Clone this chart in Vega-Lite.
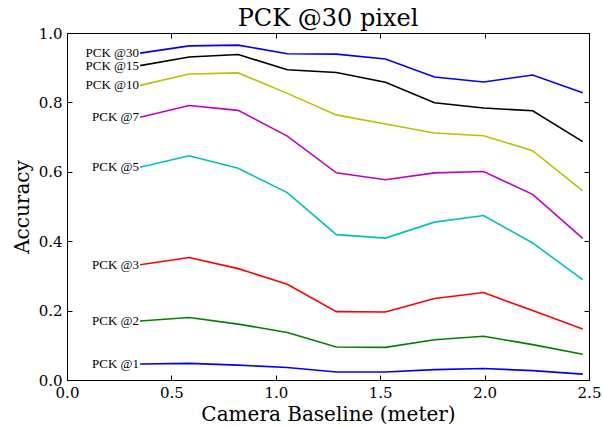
{
  "$schema": "https://vega.github.io/schema/vega-lite/v6.json",
  "width": 522,
  "height": 347,
  "autosize": "none",
  "padding": {"left": 67, "top": 33, "right": 14, "bottom": 47},
  "background": "white",
  "config": {"view": {"stroke": null}},
  "title": {"text": "PCK @30 pixel", "font": "DejaVu Serif", "fontSize": 24, "fontWeight": "normal", "color": "black", "anchor": "middle", "baseline": "alphabetic", "offset": -24},
  "data": {"values": [
    {"s": "PCK @30", "x": 0.35, "y": 0.942}, {"s": "PCK @30", "x": 0.585, "y": 0.963}, {"s": "PCK @30", "x": 0.82, "y": 0.965}, {"s": "PCK @30", "x": 1.055, "y": 0.940}, {"s": "PCK @30", "x": 1.29, "y": 0.939}, {"s": "PCK @30", "x": 1.525, "y": 0.925}, {"s": "PCK @30", "x": 1.76, "y": 0.873}, {"s": "PCK @30", "x": 1.995, "y": 0.859}, {"s": "PCK @30", "x": 2.23, "y": 0.879}, {"s": "PCK @30", "x": 2.47, "y": 0.828},
    {"s": "PCK @15", "x": 0.35, "y": 0.906}, {"s": "PCK @15", "x": 0.585, "y": 0.931}, {"s": "PCK @15", "x": 0.82, "y": 0.938}, {"s": "PCK @15", "x": 1.055, "y": 0.894}, {"s": "PCK @15", "x": 1.29, "y": 0.886}, {"s": "PCK @15", "x": 1.525, "y": 0.858}, {"s": "PCK @15", "x": 1.76, "y": 0.799}, {"s": "PCK @15", "x": 1.995, "y": 0.784}, {"s": "PCK @15", "x": 2.23, "y": 0.776}, {"s": "PCK @15", "x": 2.47, "y": 0.687},
    {"s": "PCK @10", "x": 0.35, "y": 0.849}, {"s": "PCK @10", "x": 0.585, "y": 0.882}, {"s": "PCK @10", "x": 0.82, "y": 0.885}, {"s": "PCK @10", "x": 1.055, "y": 0.826}, {"s": "PCK @10", "x": 1.29, "y": 0.764}, {"s": "PCK @10", "x": 1.525, "y": 0.738}, {"s": "PCK @10", "x": 1.76, "y": 0.712}, {"s": "PCK @10", "x": 1.995, "y": 0.704}, {"s": "PCK @10", "x": 2.23, "y": 0.661}, {"s": "PCK @10", "x": 2.47, "y": 0.545},
    {"s": "PCK @7", "x": 0.35, "y": 0.757}, {"s": "PCK @7", "x": 0.585, "y": 0.791}, {"s": "PCK @7", "x": 0.82, "y": 0.777}, {"s": "PCK @7", "x": 1.055, "y": 0.703}, {"s": "PCK @7", "x": 1.29, "y": 0.597}, {"s": "PCK @7", "x": 1.525, "y": 0.577}, {"s": "PCK @7", "x": 1.76, "y": 0.597}, {"s": "PCK @7", "x": 1.995, "y": 0.601}, {"s": "PCK @7", "x": 2.23, "y": 0.535}, {"s": "PCK @7", "x": 2.47, "y": 0.408},
    {"s": "PCK @5", "x": 0.35, "y": 0.613}, {"s": "PCK @5", "x": 0.585, "y": 0.646}, {"s": "PCK @5", "x": 0.82, "y": 0.610}, {"s": "PCK @5", "x": 1.055, "y": 0.540}, {"s": "PCK @5", "x": 1.29, "y": 0.419}, {"s": "PCK @5", "x": 1.525, "y": 0.409}, {"s": "PCK @5", "x": 1.76, "y": 0.455}, {"s": "PCK @5", "x": 1.995, "y": 0.474}, {"s": "PCK @5", "x": 2.23, "y": 0.395}, {"s": "PCK @5", "x": 2.47, "y": 0.289},
    {"s": "PCK @3", "x": 0.35, "y": 0.332}, {"s": "PCK @3", "x": 0.585, "y": 0.353}, {"s": "PCK @3", "x": 0.82, "y": 0.321}, {"s": "PCK @3", "x": 1.055, "y": 0.276}, {"s": "PCK @3", "x": 1.29, "y": 0.197}, {"s": "PCK @3", "x": 1.525, "y": 0.196}, {"s": "PCK @3", "x": 1.76, "y": 0.235}, {"s": "PCK @3", "x": 1.995, "y": 0.252}, {"s": "PCK @3", "x": 2.23, "y": 0.200}, {"s": "PCK @3", "x": 2.47, "y": 0.147},
    {"s": "PCK @2", "x": 0.35, "y": 0.170}, {"s": "PCK @2", "x": 0.585, "y": 0.180}, {"s": "PCK @2", "x": 0.82, "y": 0.161}, {"s": "PCK @2", "x": 1.055, "y": 0.137}, {"s": "PCK @2", "x": 1.29, "y": 0.095}, {"s": "PCK @2", "x": 1.525, "y": 0.094}, {"s": "PCK @2", "x": 1.76, "y": 0.116}, {"s": "PCK @2", "x": 1.995, "y": 0.126}, {"s": "PCK @2", "x": 2.23, "y": 0.102}, {"s": "PCK @2", "x": 2.47, "y": 0.074},
    {"s": "PCK @1", "x": 0.35, "y": 0.046}, {"s": "PCK @1", "x": 0.585, "y": 0.048}, {"s": "PCK @1", "x": 0.82, "y": 0.043}, {"s": "PCK @1", "x": 1.055, "y": 0.036}, {"s": "PCK @1", "x": 1.29, "y": 0.023}, {"s": "PCK @1", "x": 1.525, "y": 0.023}, {"s": "PCK @1", "x": 1.76, "y": 0.030}, {"s": "PCK @1", "x": 1.995, "y": 0.033}, {"s": "PCK @1", "x": 2.23, "y": 0.027}, {"s": "PCK @1", "x": 2.47, "y": 0.017}
  ]},
  "layer": [
    {
      "mark": {"type": "line", "strokeWidth": 1.6, "clip": true},
      "encoding": {
        "x": {"field": "x", "type": "quantitative", "scale": {"domain": [0, 2.5], "nice": false, "zero": false},
          "axis": {"orient": "bottom", "title": "Camera Baseline (meter)", "values": [0, 0.5, 1, 1.5, 2, 2.5], "format": ".1f", "grid": false, "domainColor": "black", "domainWidth": 1, "tickColor": "black", "tickSize": -5, "labelPadding": 10, "labelFont": "DejaVu Serif", "labelFontSize": 15, "labelColor": "black", "titleFont": "DejaVu Serif", "titleFontSize": 20, "titleFontWeight": "normal", "titleColor": "black", "titlePadding": 4, "labelFlush": false}},
        "y": {"field": "y", "type": "quantitative", "scale": {"domain": [0, 1], "nice": false},
          "axis": {"orient": "left", "title": "Accuracy", "values": [0, 0.2, 0.4, 0.6, 0.8, 1.0], "format": ".1f", "grid": false, "domainColor": "black", "domainWidth": 1, "tickColor": "black", "tickSize": -5, "labelPadding": 10, "labelFont": "DejaVu Serif", "labelFontSize": 15, "labelColor": "black", "titleFont": "DejaVu Serif", "titleFontSize": 20, "titleFontWeight": "normal", "titleColor": "black", "titlePadding": 6, "labelFlush": false}},
        "color": {"field": "s", "type": "nominal", "legend": null,
          "scale": {"domain": ["PCK @30", "PCK @15", "PCK @10", "PCK @7", "PCK @5", "PCK @3", "PCK @2", "PCK @1"],
                    "range": ["#0000ff", "#000000", "#bfbf00", "#bf00bf", "#00bfbf", "#ff0000", "#008000", "#0000ff"]}},
        "detail": {"field": "s"}
      }
    },
    {
      "transform": [{"filter": "datum.x == 0.35"}],
      "mark": {"type": "text", "align": "right", "baseline": "middle", "dx": -1, "font": "Liberation Serif", "fontSize": 13, "color": "black"},
      "encoding": {
        "x": {"field": "x", "type": "quantitative",
          "axis": {"orient": "top", "title": null, "labels": false, "values": [0, 0.5, 1, 1.5, 2, 2.5], "grid": false, "domainColor": "black", "tickColor": "black", "tickSize": -5}},
        "y": {"field": "y", "type": "quantitative",
          "axis": {"orient": "right", "title": null, "labels": false, "values": [0, 0.2, 0.4, 0.6, 0.8, 1.0], "grid": false, "domainColor": "black", "tickColor": "black", "tickSize": -5}},
        "text": {"field": "s"}
      }
    }
  ],
  "resolve": {"axis": {"x": "independent", "y": "independent"}}
}
